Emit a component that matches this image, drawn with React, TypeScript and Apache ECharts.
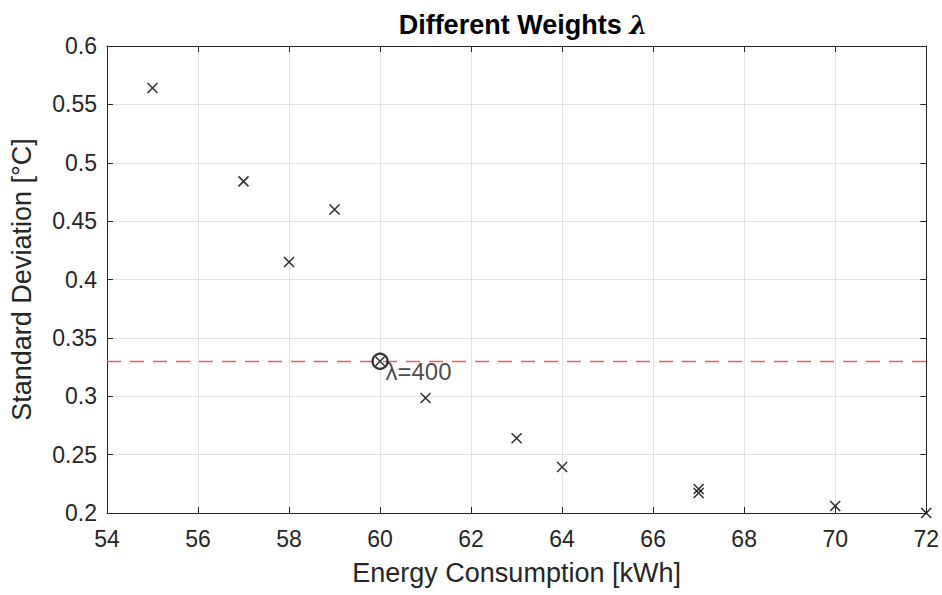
import React, { useEffect, useRef } from "react";
import * as echarts from "echarts";

const energy = [55, 57, 58, 59, 61, 63, 64, 67, 67, 70, 72];
const stdDev = [0.564, 0.484, 0.415, 0.46, 0.2985, 0.264, 0.2394, 0.2206, 0.2171, 0.206, 0.2];
const selectedPoint = [60, 0.33];
const selectedLabel = "λ=400";
const thresholdY = 0.33;
const xTicks = [54, 56, 58, 60, 62, 64, 66, 68, 70, 72];
const yTicks = [0.2, 0.25, 0.3, 0.35, 0.4, 0.45, 0.5, 0.55, 0.6];

const crossPath = "path://M0,0L10,10M10,0L0,10";
const FONT = "'Liberation Sans', Arial, Helvetica, sans-serif";

export default function App() {
  const ref = useRef<HTMLDivElement>(null);
  useEffect(() => {
    const chart = echarts.init(ref.current!, null, { renderer: "svg" });
    const axisCommon = {
      axisLine: { show: true, onZero: false, lineStyle: { color: "#262626", width: 1 } },
      axisTick: { show: true, inside: true, length: 6, lineStyle: { color: "#262626" } },
    };
    chart.setOption({
      animation: false,
      backgroundColor: "#fff",
      title: {
        text: "{a|Different Weights }{b|λ}",
        left: 518,
        textAlign: "center",
        top: 6,
        textStyle: {
          rich: {
            a: { fontFamily: FONT, fontWeight: "bold", fontSize: 27, color: "#000" },
            b: { fontFamily: "'DejaVu Serif', serif", fontStyle: "italic", fontSize: 26, color: "#000" },
          },
        },
      },
      grid: { left: 107, right: 12, top: 46, bottom: 82, show: false },
      xAxis: [
        {
          type: "value",
          min: 54,
          max: 72,
          interval: 2,
          ...axisCommon,
          axisLabel: { color: "#262626", fontSize: 23, fontFamily: FONT, margin: 14, formatter: (v: number) => (xTicks.includes(v) ? String(v) : "") },
          splitLine: { show: true, lineStyle: { color: "#e3e3e3", width: 1 } },
          name: "Energy Consumption [kWh]",
          nameLocation: "middle",
          nameGap: 46,
          nameTextStyle: { color: "#262626", fontSize: 27, fontFamily: FONT },
        },
        {
          type: "value",
          position: "top",
          min: 54,
          max: 72,
          interval: 2,
          ...axisCommon,
          axisLabel: { show: false },
          splitLine: { show: false },
        },
      ],
      yAxis: [
        {
          type: "value",
          min: 0.2,
          max: 0.6,
          interval: 0.05,
          ...axisCommon,
          axisLabel: {
            color: "#262626",
            fontSize: 23,
            fontFamily: FONT,
            margin: 10,
            formatter: (v: number) => {
              const r = Math.round(v * 100) / 100;
              return yTicks.some((t) => Math.abs(t - r) < 1e-9) ? String(r) : "";
            },
          },
          splitLine: { show: true, lineStyle: { color: "#e3e3e3", width: 1 } },
          name: "Standard Deviation [°C]",
          nameLocation: "middle",
          nameGap: 72,
          nameTextStyle: { color: "#262626", fontSize: 27, fontFamily: FONT },
        },
        {
          type: "value",
          position: "right",
          min: 0.2,
          max: 0.6,
          interval: 0.05,
          ...axisCommon,
          axisLabel: { show: false },
          splitLine: { show: false },
        },
      ],
      series: [
        {
          type: "scatter",
          xAxisIndex: 0,
          yAxisIndex: 0,
          symbol: crossPath,
          symbolSize: 10,
          itemStyle: { color: "rgba(0,0,0,0)", borderColor: "#000", borderWidth: 1.6 },
          data: energy.map((x, i) => [x, stdDev[i]]),
          markLine: {
            silent: true,
            symbol: "none",
            label: { show: false },
            lineStyle: { color: "#f45a5a", type: [14, 9], width: 1.3 },
            data: [{ yAxis: thresholdY }],
          },
          z: 3,
        },
        {
          type: "scatter",
          symbol: crossPath,
          symbolSize: 9,
          itemStyle: { color: "rgba(0,0,0,0)", borderColor: "#000", borderWidth: 1.6 },
          data: [selectedPoint],
          z: 4,
        },
        {
          type: "scatter",
          symbol: "circle",
          symbolSize: 15,
          itemStyle: { color: "rgba(0,0,0,0)", borderColor: "#000", borderWidth: 2.2 },
          data: [selectedPoint],
          label: {
            show: true,
            position: [14, 7],
            formatter: selectedLabel,
            fontSize: 24,
            fontFamily: FONT,
            color: "#1a1a1a",
          },
          z: 5,
        },
      ],
    });
    return () => chart.dispose();
  }, []);
  return <div ref={ref} style={{ width: 942, height: 595, position: "absolute", left: 0, top: 0 }} />;
}
